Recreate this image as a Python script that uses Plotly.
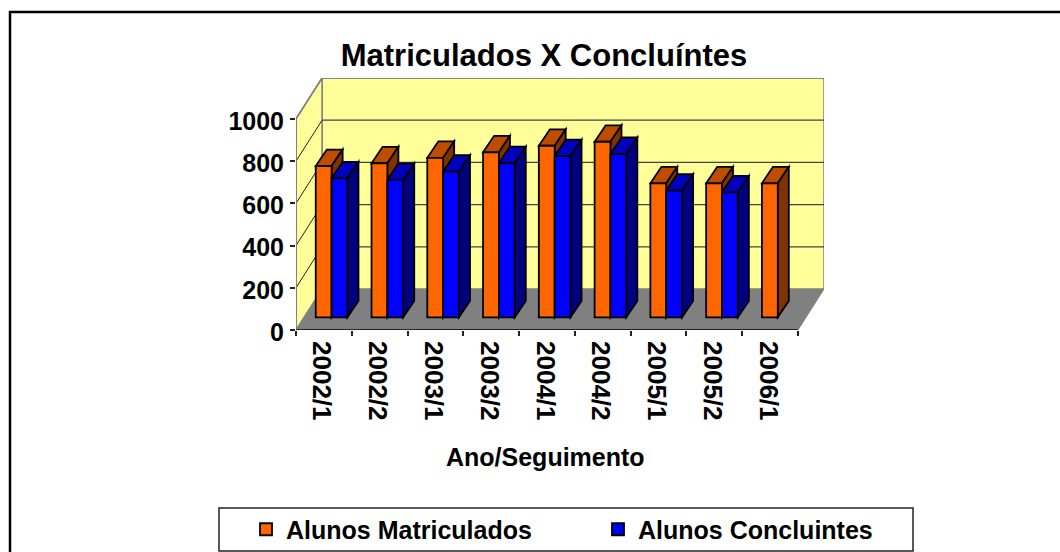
import plotly.graph_objects as go

periodos = ["2002/1", "2002/2", "2003/1", "2003/2", "2004/1", "2004/2", "2005/1", "2005/2", "2006/1"]
matriculados = [717, 730, 756, 782, 813, 832, 635, 635, 635]
concluintes = [659, 651, 690, 731, 764, 774, 600, 592, None]
y_ticks = [0, 200, 400, 600, 800, 1000]

FONT = "Liberation Sans"
W, H = 1060, 552

# perspective of the Excel-style 3D box, in axis units
WALL_DX, WALL_DY = 0.467, 194
BAR_DX, BAR_DY = 0.198, 78
BAR_BASE = 60
BAR_W = 0.284
OFFSET_A = -0.146
OFFSET_B = OFFSET_A + BAR_W
X0, X1 = -0.5, len(periodos) - 0.5
EDGE = 1.8


def poly(pts, fill, line="rgba(0,0,0,0)", width=0):
    path = "M " + " L ".join(f"{x} {y}" for x, y in pts) + " Z"
    return dict(type="path", path=path, xref="x", yref="y", layer="below",
                fillcolor=fill, line=dict(color=line, width=width))


def seg(x0, y0, x1, y1, color, width=1):
    return dict(type="line", x0=x0, y0=y0, x1=x1, y1=y1, xref="x", yref="y", layer="below",
                line=dict(color=color, width=width))


def bar_faces(i, value, offset, top_color, side_color):
    xl = i + offset
    xr = xl + BAR_W
    top = BAR_BASE + value
    return [
        poly([(xl, top), (xr, top), (xr + BAR_DX, top + BAR_DY), (xl + BAR_DX, top + BAR_DY)],
             top_color, "black", EDGE),
        poly([(xr, BAR_BASE), (xr + BAR_DX, BAR_BASE + BAR_DY), (xr + BAR_DX, top + BAR_DY), (xr, top)],
             side_color, "black", EDGE),
    ]


shapes = [
    poly([(X0, 0), (X0 + WALL_DX, WALL_DY), (X1 + WALL_DX, WALL_DY), (X1, 0)], "#808080"),
    poly([(X0 + WALL_DX, WALL_DY), (X1 + WALL_DX, WALL_DY), (X1 + WALL_DX, 1000 + WALL_DY), (X0 + WALL_DX, 1000 + WALL_DY)],
         "#FFFF99", "#808080", 1.5),
    poly([(X0, 0), (X0 + WALL_DX, WALL_DY), (X0 + WALL_DX, 1000 + WALL_DY), (X0, 1000)],
         "#FFFF99", "#808080", 1.5),
]
for t in y_ticks[1:-1]:
    shapes.append(seg(X0, t, X0 + WALL_DX, t + WALL_DY, "#222222"))
    shapes.append(seg(X0 + WALL_DX, t + WALL_DY, X1 + WALL_DX, t + WALL_DY, "#444444", 1.2))
shapes.append(seg(X0, 1000, X0 + WALL_DX, 1000 + WALL_DY, "#808080", 1.5))
shapes.append(seg(X0 + WALL_DX, 1000 + WALL_DY, X1 + WALL_DX, 1000 + WALL_DY, "#808080", 1.5))
shapes.append(seg(X0, 0, X0, 1000, "#808080", 2))
shapes.append(seg(X0, 0, X1, 0, "#222222", 2))
shapes.append(seg(X1, 0, X1 + WALL_DX, WALL_DY, "#808080", 1))

for i in range(len(periodos)):
    shapes += bar_faces(i, matriculados[i], OFFSET_A, "#BF4D00", "#803300")
    if concluintes[i] is not None:
        shapes += bar_faces(i, concluintes[i], OFFSET_B, "#0000BF", "#000080")

# outer frame, open on the right and at the bottom
shapes.append(dict(type="path", path=f"M {10 / W} 0 L {10 / W} {1 - 12 / H} L 1 {1 - 12 / H}",
                   xref="paper", yref="paper", line=dict(color="black", width=2.5)))
# legend box
shapes.append(dict(type="rect", x0=219 / W, x1=913 / W, y0=1 - 551 / H, y1=1 - 508 / H,
                   xref="paper", yref="paper", line=dict(color="#222222", width=1.5)))

fig = go.Figure()
fig.add_trace(go.Bar(
    x=periodos, y=matriculados, base=BAR_BASE, name="Alunos Matriculados",
    offset=OFFSET_A, width=BAR_W,
    marker=dict(color="#FF6600", line=dict(color="black", width=EDGE)),
))
fig.add_trace(go.Bar(
    x=periodos, y=concluintes, base=BAR_BASE, name="Alunos Concluintes",
    offset=OFFSET_B, width=BAR_W,
    marker=dict(color="#0000FF", line=dict(color="black", width=EDGE)),
))

fig.update_layout(
    width=W, height=H, margin=dict(l=0, r=0, t=0, b=0, autoexpand=False),
    paper_bgcolor="white", plot_bgcolor="rgba(0,0,0,0)",
    font=dict(family=FONT, color="black"),
    barmode="overlay", shapes=shapes,
    title=dict(text="<b>Matriculados X Concluíntes</b>", font=dict(size=31),
               x=544 / W, xanchor="center", xref="paper", y=1 - 55 / H, yanchor="middle", yref="paper"),
    legend=dict(orientation="h", x=246 / W, xanchor="left", y=1 - 529.5 / H, yanchor="middle",
                bgcolor="rgba(0,0,0,0)", borderwidth=0, entrywidth=307, entrywidthmode="pixels",
                font=dict(size=25, weight="bold"), traceorder="normal"),
)
# axis title sits left of the axis centre in the original, so it is placed by hand
fig.add_annotation(text="<b>Ano/Seguimento</b>", xref="paper", yref="paper", x=545 / W, y=1 - 457 / H,
                   xanchor="center", yanchor="middle", showarrow=False, font=dict(size=25))
fig.update_xaxes(
    type="category", categoryorder="array", categoryarray=periodos,
    domain=[296 / W, 824 / W], range=[X0, X1 + WALL_DX],
    tickson="boundaries", ticks="outside", ticklen=5, tickwidth=1.5, tickcolor="#222222",
    tickangle=90, tickfont=dict(size=26, weight="bold"), ticklabelstandoff=10, ticklabelshift=-2,
    showgrid=False, showline=False, zeroline=False,
)
fig.update_yaxes(
    domain=[1 - 330 / H, 1 - 78 / H], range=[0, 1000 + WALL_DY],
    tickmode="array", tickvals=y_ticks, ticks="outside", ticklen=5, tickwidth=1.5, tickcolor="#222222",
    tickfont=dict(size=25, weight="bold"), ticklabelstandoff=1, ticklabelshift=2,
    showgrid=False, showline=False, zeroline=False,
)

fig.write_html("out.html", config=dict(displayModeBar=False),
               post_script="document.body.style.margin = '0';")
